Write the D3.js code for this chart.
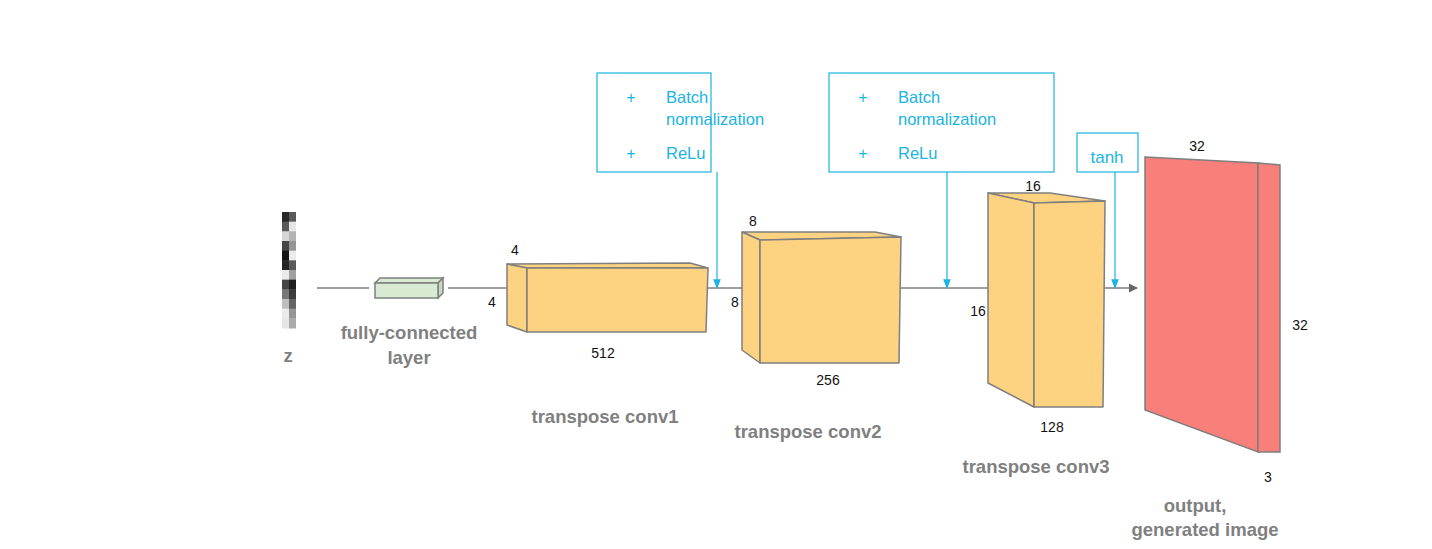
<!DOCTYPE html>
<html><head><meta charset="utf-8">
<script src="https://cdn.jsdelivr.net/npm/d3@7"></script>
<style>body{margin:0;background:#fff}svg{font-family:"Liberation Sans",Arial,sans-serif}</style>
</head><body><svg id="c" width="1432" height="549"></svg>
<script>
// --- data ---
// z vector gray levels (0 = black, 255 = white), left / right column
const zLeft  = [40, 90, 215, 70, 20, 35, 235, 70, 120, 190, 235, 230];
const zRight = [90, 230, 180, 150, 235, 90, 160, 30, 60, 100, 150, 170];

// blocks: back-top-left, front-top-left, front-top-right, back-top-right, front bottom, side bottom
const blocks = [
  {name: "conv1", fill: "#fdd382", pts: {btl:[507,264], ftl:[527,268], ftr:[708,268], btr:[690,263], fb:332, sb:325}},
  {name: "conv2", fill: "#fdd382", pts: {btl:[742,232], ftl:[760,240], ftr:[901,237], btr:[875,232], fb:363, sb:350}},
  {name: "conv3", fill: "#fdd382", pts: {btl:[988,193], ftl:[1034,203], ftr:[1105,201], btr:[1050,193], fb:407, sb:383}}
];
const dimLabels = [
  ["4",515,255],["4",492,307],["512",603,358],
  ["8",753,226],["8",735,307],["256",828,385],
  ["16",1033,191],["16",978,316],["128",1052,432],
  ["32",1197,151],["32",1300,330],["3",1268,482]
];
const names = [
  ["z",288,362],["fully-connected",409,339],["layer",409,364],
  ["transpose conv1",605,423],["transpose conv2",808,438],["transpose conv3",1036,473],
  ["output,",1195,512],["generated image",1205,536]
];
const opBoxes = [
  {x:597, w:114, lines:[["+","Batch",103],["","normalization",125],["+","ReLu",159]], arrowX:717},
  {x:829, w:225, lines:[["+","Batch",103],["","normalization",125],["+","ReLu",159]], arrowX:947}
];

const svg = d3.select("#c");
const grey = "#7f7f7f", blue = "#1ab4e2", axisY = 288;

svg.append("defs").append("marker").attr("id","ah").attr("viewBox","0 0 10 10")
  .attr("refX",9).attr("refY",5).attr("markerWidth",7).attr("markerHeight",7).attr("orient","auto")
  .append("path").attr("d","M0,0L10,5L0,10z").attr("fill","#666");
svg.select("defs").append("marker").attr("id","bh").attr("viewBox","0 0 10 10")
  .attr("refX",9).attr("refY",5).attr("markerWidth",8).attr("markerHeight",8).attr("orient","auto")
  .append("path").attr("d","M0,1L10,5L0,9z").attr("fill",blue);

// --- z vector ---
const zy = d3.scaleBand().domain(d3.range(zLeft.length)).range([212,328]);
[zLeft, zRight].forEach((col, ci) => {
  svg.selectAll(null).data(col).join("rect")
    .attr("x", 282 + ci*7).attr("width", 7)
    .attr("y", (d,i) => zy(i)).attr("height", zy.bandwidth()+0.5)
    .attr("fill", d => d3.rgb(d,d,d));
});

// --- connecting lines ---
const segs = [[317,369],[448,508],[708,742],[901,988]];
svg.selectAll(null).data(segs).join("line")
  .attr("x1",d=>d[0]).attr("x2",d=>d[1]).attr("y1",axisY).attr("y2",axisY)
  .attr("stroke",grey).attr("stroke-width",1.3);
svg.append("line").attr("x1",1105).attr("x2",1137).attr("y1",axisY).attr("y2",axisY)
  .attr("stroke","#666").attr("stroke-width",1.3).attr("marker-end","url(#ah)");

// --- fully-connected layer ---
const fc = {x:375, y:283, w:63, h:15, dx:5, dy:-5};
svg.append("path").attr("fill","#d9ead3").attr("stroke",grey).attr("stroke-width",1.5)
  .attr("d",`M${fc.x},${fc.y}l${fc.dx},${fc.dy}h${fc.w}l${-fc.dx},${-fc.dy}z`);
svg.append("path").attr("fill","#c5d9bf").attr("stroke",grey).attr("stroke-width",1.5)
  .attr("d",`M${fc.x+fc.w},${fc.y}l${fc.dx},${fc.dy}v${fc.h}l${-fc.dx},${-fc.dy}z`);
svg.append("rect").attr("x",fc.x).attr("y",fc.y).attr("width",fc.w).attr("height",fc.h)
  .attr("fill","#d9ead3").attr("stroke",grey).attr("stroke-width",1.5);

// --- conv blocks ---
const line = d3.line();
blocks.forEach(b => {
  const p = b.pts;
  const g = svg.append("g").attr("fill",b.fill).attr("stroke",grey).attr("stroke-width",1.5).attr("stroke-linejoin","round");
  g.append("path").attr("d", line([p.btl,p.btr,p.ftr,p.ftl]) + "z");
  g.append("path").attr("d", line([p.btl,p.ftl,[p.ftl[0],p.fb],[p.btl[0],p.sb]]) + "z");
  g.append("path").attr("d", line([p.ftl,p.ftr,[p.ftr[0]-2,p.fb],[p.ftl[0],p.fb]]) + "z");
});

// --- output image ---
const og = svg.append("g").attr("fill","#f97f7a").attr("stroke",grey).attr("stroke-width",1.5);
og.append("path").attr("d", line([[1145,157],[1258,163],[1258,452],[1145,410]]) + "z");
og.append("path").attr("d", line([[1258,163],[1280,165],[1280,452],[1258,452]]) + "z");

// --- op boxes ---
opBoxes.forEach(b => {
  svg.append("rect").attr("x",b.x).attr("y",73).attr("width",b.w).attr("height",99)
    .attr("fill","none").attr("stroke",blue).attr("stroke-width",1.2);
  b.lines.forEach(l => {
    svg.append("text").attr("x",b.x+34).attr("y",l[2]).attr("text-anchor","middle")
      .attr("fill",blue).attr("font-size",16).text(l[0]);
    svg.append("text").attr("x",b.x+69).attr("y",l[2]).attr("fill",blue).attr("font-size",16.5).text(l[1]);
  });
  svg.append("line").attr("x1",b.arrowX).attr("x2",b.arrowX).attr("y1",172).attr("y2",axisY)
    .attr("stroke",blue).attr("stroke-width",1.2).attr("marker-end","url(#bh)");
});
svg.append("rect").attr("x",1077).attr("y",133).attr("width",61).attr("height",39)
  .attr("fill","none").attr("stroke",blue).attr("stroke-width",1.2);
svg.append("text").attr("x",1107).attr("y",163).attr("text-anchor","middle")
  .attr("fill",blue).attr("font-size",17).text("tanh");
svg.append("line").attr("x1",1115).attr("x2",1115).attr("y1",172).attr("y2",axisY)
  .attr("stroke",blue).attr("stroke-width",1.2).attr("marker-end","url(#bh)");

// --- labels ---
svg.selectAll(null).data(dimLabels).join("text")
  .attr("x",d=>d[1]).attr("y",d=>d[2]).attr("text-anchor","middle")
  .attr("font-size",14).attr("fill","#111").text(d=>d[0]);
svg.selectAll(null).data(names).join("text")
  .attr("x",d=>d[1]).attr("y",d=>d[2]).attr("text-anchor","middle")
  .attr("font-size",18.5).attr("font-weight","bold").attr("fill","#808080").text(d=>d[0]);
</script></body></html>
